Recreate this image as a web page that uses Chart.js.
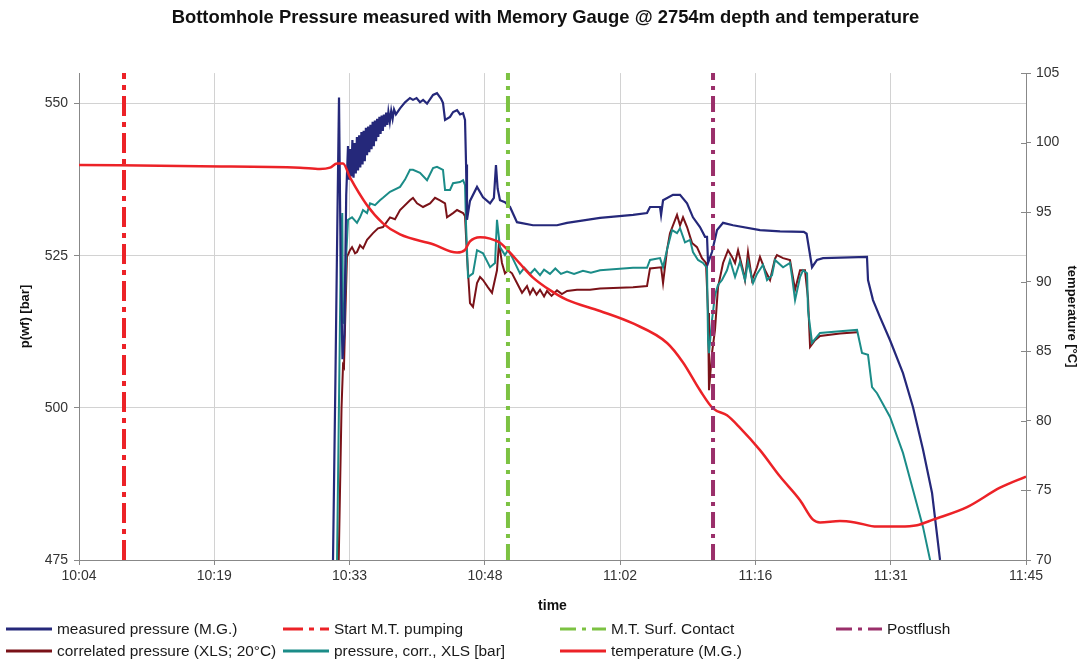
<!DOCTYPE html>
<html>
<head>
<meta charset="utf-8">
<title>Bottomhole Pressure</title>
<script src="https://cdn.jsdelivr.net/npm/chart.js@4.4.1/dist/chart.umd.min.js"></script>
<style>
  html, body { margin: 0; padding: 0; background: #fff; }
  #wrap { width: 1091px; height: 661px; }
</style>
</head>
<body>
<div id="wrap"><canvas id="chart" width="1091" height="661"></canvas></div>
<script>
'use strict'

// x values are minutes after 10:00
const timeTicks = [4, 18.43, 32.86, 47.29, 61.71, 76.14, 90.57, 105]
const timeLabels = ['10:04', '10:19', '10:33', '10:48', '11:02', '11:16', '11:31', '11:45']

const startPumping = 8.8
const surfContact = 49.75
const postflush = 71.62

const measuredPressure = [
  [30.7, 440], [31.09, 475], [31.35, 505], [31.55, 530], [31.73, 551], [31.9, 525], [32.1, 508], [32.3, 512],
  [32.5, 535], [32.69, 543], [32.8, 537.5], [32.92, 542.5], [33.04, 538], [33.16, 544], [33.28, 537.8],
  [33.4, 543.5], [33.52, 538.5], [33.64, 544.5], [33.76, 539], [33.88, 544.8], [34.0, 539.5], [34.12, 545.3],
  [34.24, 540], [34.36, 545.5], [34.48, 540.5], [34.6, 546], [34.72, 541.5], [34.84, 546.2], [34.96, 542],
  [35.08, 546.5], [35.2, 542.5], [35.32, 547], [35.44, 543], [35.56, 547.2], [35.68, 543.8], [35.8, 547.5],
  [35.92, 544.5], [36.04, 547.8], [36.16, 545], [36.28, 548], [36.4, 545.5], [36.52, 548.2], [36.64, 546.2],
  [36.76, 548.5], [36.88, 546.5], [37.0, 548.6], [37.15, 547], [37.3, 548.8], [37.45, 547.5], [37.6, 549],
  [37.8, 548.2], [38.24, 549.2], [38.77, 550.2], [39.3, 550.9], [39.62, 550.6], [40.0, 550.9], [40.37, 550.2],
  [40.7, 550.6], [41.12, 550], [41.76, 551.4], [42.18, 551.7], [42.6, 550.8], [42.82, 550.1], [43.04, 547.3],
  [43.57, 547.8], [43.9, 548.6], [44.32, 548.9], [44.64, 548.2], [44.96, 548.4], [45.17, 547.3], [45.28, 540],
  [45.38, 530.9], [45.7, 534], [46.45, 536.3], [47.09, 534.6], [47.84, 533.6], [48.25, 534.5], [48.47, 539.9],
  [48.65, 536], [48.9, 534.1], [49.43, 533.8], [49.97, 533], [50.71, 530.5], [52.42, 530], [54.98, 530],
  [56.05, 530.4], [59.57, 531.2], [63.09, 531.7], [64.58, 532], [64.9, 533], [65.97, 533], [66.08, 531.7],
  [66.29, 534.1], [67.35, 535], [68.1, 535], [68.85, 533.6], [69.48, 531.3], [70.23, 529.7], [70.77, 528.1],
  [70.98, 528.1], [71.09, 523.8], [71.51, 525.6], [72.05, 529.2], [72.69, 530.4], [73.75, 530], [76.63, 529.2],
  [78.77, 529], [81.3, 528.9], [81.6, 528.6], [82.18, 523.1], [82.71, 524.3], [83.35, 524.6], [88.04, 524.8],
  [88.15, 521], [88.68, 517.7], [89.43, 514.9], [90.5, 511.1], [91.88, 505.7], [92.95, 500.1], [94.02, 493.1],
  [94.98, 486], [95.83, 475], [96.6, 468]
]

const correlatedPressure = [
  [31.2, 440], [31.7, 475], [32.0, 500], [32.16, 507], [32.26, 506.7], [32.4, 515], [32.58, 524.8], [32.9, 525.9],
  [33.12, 526.4], [33.44, 525.4], [33.65, 525.6], [33.97, 526.7], [34.3, 526.2], [34.72, 527.6], [35.36, 528.7],
  [35.89, 529.5], [36.42, 529.7], [37.17, 531.3], [37.7, 531.0], [38.24, 532.5], [39.3, 534.1], [39.62, 534.5],
  [40.05, 533.6], [40.69, 533], [41.44, 533.6], [41.97, 534.5], [42.5, 534.1], [43.04, 533.6], [43.25, 531.3],
  [43.89, 532], [44.32, 532.5], [44.96, 532], [45.17, 531.5], [45.38, 525], [45.7, 517.2], [46.02, 516.6],
  [46.45, 520.5], [46.77, 521.5], [47.09, 521], [47.62, 519.8], [48.05, 518.9], [48.58, 522.6], [48.79, 527.1],
  [49.11, 523.8], [49.43, 522.1], [49.75, 522.6], [50.18, 522.1], [50.71, 520.5], [51.25, 518.9], [51.78, 520],
  [52.1, 518.7], [52.42, 519.6], [52.8, 518.6], [53.17, 519.4], [53.6, 518.3], [53.91, 519.2], [54.4, 518.4],
  [54.98, 519.3], [55.5, 518.7], [56.05, 519.2], [57.11, 519.4], [58.5, 519.4], [59.57, 519.6], [63.09, 519.8],
  [64.58, 520], [64.9, 522.9], [66.08, 523.1], [66.29, 520.5], [66.72, 526], [67.03, 528.7], [67.78, 531.7],
  [68.1, 530], [68.42, 531.3], [68.85, 529.7], [69.38, 527.1], [69.91, 526.4], [70.44, 524.6], [70.87, 523.8],
  [71.09, 515.6], [71.19, 502.9], [71.51, 509], [71.83, 512.8], [72.15, 519.8], [72.69, 523.8], [73.22, 525.9],
  [73.65, 524.8], [73.97, 523.8], [74.29, 525.9], [74.82, 522.6], [75.03, 521], [75.35, 525.6], [75.78, 521],
  [76.31, 523.1], [76.63, 524.8], [77.17, 522.6], [77.7, 521], [78.23, 524.5], [78.44, 525.1], [79.09, 524.6],
  [79.83, 524.3], [80.37, 519.4], [80.9, 522.6], [81.43, 522.6], [81.75, 518], [81.97, 510], [82.5, 511.1],
  [83.03, 511.8], [85.16, 512.2], [86.98, 512.4]
]

const corrPressureXls = [
  [31.0, 440], [31.52, 475], [31.8, 510], [31.94, 528], [32.08, 532], [32.16, 514], [32.3, 513.9], [32.5, 525],
  [32.69, 530.9], [33.12, 531.3], [33.65, 530.4], [33.97, 531.3], [34.29, 532.5], [34.72, 532], [35.04, 533.6],
  [35.57, 533.3], [36.1, 534.1], [36.42, 534.5], [37.17, 535.5], [38.24, 536.3], [38.77, 537.5], [39.3, 539.1],
  [39.62, 539.1], [40.37, 538.6], [41.12, 537.4], [41.76, 539.4], [42.18, 539.6], [42.82, 539.1], [43.04, 535.8],
  [43.57, 535.8], [43.89, 536.9], [44.64, 537.1], [44.96, 537.4], [45.17, 536.6], [45.28, 530], [45.49, 521.5],
  [46.02, 522.1], [46.45, 525.9], [47.09, 525.4], [47.84, 523.1], [48.37, 523.8], [48.58, 530.9], [48.9, 526.4],
  [49.43, 525.1], [49.75, 525.9], [50.18, 524.8], [51.03, 522.1], [51.5, 523], [52.1, 522], [52.6, 522.8],
  [53.17, 521.8], [53.6, 522.7], [54.23, 522], [54.8, 522.9], [55.4, 522], [56.05, 522.4], [56.8, 522],
  [57.75, 522.5], [58.6, 522.2], [59.57, 522.6], [63.09, 523], [64.58, 523], [64.9, 524.3], [65.97, 524.6],
  [66.29, 523.1], [66.72, 526], [67.25, 529.2], [67.78, 528.7], [68.1, 529.5], [68.63, 527.2], [69.17, 527.6],
  [69.48, 525.6], [70.02, 524.3], [70.55, 523.8], [70.98, 523], [71.09, 511], [71.19, 509], [71.51, 514.4],
  [71.83, 518.5], [72.15, 520.2], [72.58, 521], [73.11, 522.6], [73.43, 524.3], [73.97, 521.5], [74.5, 524],
  [75.03, 521], [75.35, 524], [75.89, 520.5], [76.31, 522], [76.95, 523.5], [77.38, 521], [77.91, 521.8],
  [78.23, 524.3], [79.09, 523.1], [79.83, 523.8], [80.05, 521.5], [80.37, 517.7], [80.9, 521.5], [81.22, 522.6],
  [81.65, 522.1], [81.75, 516], [82.18, 510.7], [83.03, 512.3], [85.16, 512.6], [86.98, 512.8], [87.51, 509],
  [88.15, 508.7], [88.58, 503.4], [89.11, 502.4], [90.5, 498.5], [91.88, 492.6], [92.95, 486.5], [94.02, 480.4],
  [94.77, 475], [95.3, 470]
]

const temperature = [
  [4, 98.4], [16.91, 98.3], [27.57, 98.2], [29.7, 98.1], [30.77, 98.2], [31.52, 98.5], [32.16, 98.5], [32.9, 97.5],
  [34.72, 95.5], [36.42, 94.2], [38.24, 93.4], [41.76, 92.7], [44.32, 92.1], [45.17, 92.3], [45.7, 92.9],
  [46.77, 93.2], [47.84, 93.1], [48.9, 92.8], [49.97, 92.1], [51.03, 91.3], [52.42, 90.3], [54.23, 89.4],
  [56.05, 88.7], [59.57, 87.9], [63.09, 87], [66.72, 85.6], [68.42, 84.2], [70.23, 82.2], [71.62, 80.9],
  [73.11, 80.4], [74.5, 79.5], [76.63, 77.9], [78.77, 76], [80.9, 74.3], [82.28, 72.9], [83.03, 72.7],
  [85.16, 72.8], [86.76, 72.7], [89.11, 72.4], [91.57, 72.4], [93.38, 72.5], [95.09, 72.9], [98.71, 73.8],
  [102.23, 75.2], [105, 76]
]

const FONT = '"Liberation Sans", Arial, sans-serif'

// legend grid: column x, row y
const legendCols = [6, 283, 560, 836]
const legendRows = [629, 651]
const legendSlots = [
  {label: 'measured pressure (M.G.)', col: 0, row: 0},
  {label: 'Start M.T. pumping', col: 1, row: 0},
  {label: 'M.T. Surf. Contact', col: 2, row: 0},
  {label: 'Postflush', col: 3, row: 0},
  {label: 'correlated pressure (XLS; 20°C)', col: 0, row: 1},
  {label: 'pressure, corr., XLS [bar]', col: 1, row: 1},
  {label: 'temperature (M.G.)', col: 2, row: 1}
]


function pts (list) {
  return list.map(p => ({x: p[0], y: p[1]}))
}


function marker (x) {
  return [{x: x, y: 475}, {x: x, y: 555}]
}


const bottomLegend = {
  id: 'bottomLegend',
  afterDraw (chart) {
    const ctx = chart.ctx
    ctx.save()

    // temperature axis ticks cross the axis line
    const y1 = chart.scales.y1
    ctx.strokeStyle = '#888'
    ctx.lineWidth = 1
    y1.ticks.forEach(t => {
      const py = Math.round(y1.getPixelForValue(t.value)) + 0.5
      ctx.beginPath()
      ctx.moveTo(y1.left - 5, py)
      ctx.lineTo(y1.left, py)
      ctx.stroke()
    })

    ctx.font = '15.4px ' + FONT
    ctx.textBaseline = 'middle'
    legendSlots.forEach(slot => {
      const ds = chart.data.datasets.find(d => d.label === slot.label)
      const x = legendCols[slot.col]
      const y = legendRows[slot.row]
      ctx.strokeStyle = ds.borderColor
      ctx.lineWidth = 3
      ctx.setLineDash(ds.borderDash || [])
      ctx.beginPath()
      ctx.moveTo(x, y)
      ctx.lineTo(x + 46, y)
      ctx.stroke()
      ctx.setLineDash([])
      ctx.fillStyle = '#1a1a1a'
      ctx.fillText(ds.label, x + 51, y + 1)
    })
    ctx.restore()
  }
}


const lineBase = {pointRadius: 0, borderWidth: 2, tension: 0, fill: false}

const chart = new Chart(document.getElementById('chart'), {
  type: 'line',
  data: {
    datasets: [
      Object.assign({}, lineBase, {
        label: 'measured pressure (M.G.)', data: pts(measuredPressure),
        borderColor: '#25287a', borderWidth: 2.2, yAxisID: 'y', order: 3
      }),
      Object.assign({}, lineBase, {
        label: 'Start M.T. pumping', data: marker(startPumping),
        borderColor: '#ec2227', borderWidth: 4, borderDash: [20, 6, 5, 6], yAxisID: 'y', order: 0
      }),
      Object.assign({}, lineBase, {
        label: 'M.T. Surf. Contact', data: marker(surfContact),
        borderColor: '#7cc242', borderWidth: 4, borderDash: [16, 6, 4, 6], yAxisID: 'y', order: 0
      }),
      Object.assign({}, lineBase, {
        label: 'Postflush', data: marker(postflush),
        borderColor: '#9a2f6a', borderWidth: 4, borderDash: [16, 6, 4, 6], yAxisID: 'y', order: 0
      }),
      Object.assign({}, lineBase, {
        label: 'correlated pressure (XLS; 20°C)', data: pts(correlatedPressure),
        borderColor: '#7a1218', yAxisID: 'y', order: 5
      }),
      Object.assign({}, lineBase, {
        label: 'pressure, corr., XLS [bar]', data: pts(corrPressureXls),
        borderColor: '#1b8c88', yAxisID: 'y', order: 4
      }),
      Object.assign({}, lineBase, {
        label: 'temperature (M.G.)', data: pts(temperature),
        borderColor: '#ec2227', borderWidth: 2.5, cubicInterpolationMode: 'monotone',
        yAxisID: 'y1', order: 1
      })
    ]
  },
  options: {
    responsive: false,
    animation: false,
    layout: {padding: {top: 0, left: 0, right: 0, bottom: 46}},
    plugins: {
      legend: {display: false},
      tooltip: {enabled: false},
      title: {
        display: true,
        text: 'Bottomhole Pressure measured with Memory Gauge @ 2754m depth and temperature',
        color: '#111',
        font: {family: FONT, size: 18.4, weight: 'bold', lineHeight: 1.2},
        padding: {top: 7, bottom: 44}
      }
    },
    scales: {
      x: {
        type: 'linear',
        min: 4,
        max: 105,
        afterBuildTicks: scale => { scale.ticks = timeTicks.map(v => ({value: v})) },
        afterFit: scale => { scale.height = 55 },
        ticks: {
          autoSkip: false,
          maxRotation: 0,
          color: '#333',
          padding: 3,
          font: {family: FONT, size: 14},
          callback: (value, index) => timeLabels[index]
        },
        grid: {color: '#d2d2d2', tickColor: '#888', tickLength: 5},
        border: {color: '#888'},
        title: {
          display: true, text: 'time', color: '#111',
          font: {family: FONT, size: 14, weight: 'bold', lineHeight: 1.2},
          padding: {top: 0, bottom: 0}
        }
      },
      y: {
        position: 'left',
        min: 475,
        max: 555,
        afterFit: scale => { scale.width = 79 },
        ticks: {
          stepSize: 25, includeBounds: false, color: '#333', padding: 6,
          font: {family: FONT, size: 14}
        },
        grid: {color: '#d2d2d2', tickColor: '#888', tickLength: 5},
        border: {color: '#888'},
        title: {
          display: true, text: 'p(wf) [bar]', color: '#111',
          font: {family: FONT, size: 13, weight: 'bold', lineHeight: 1.2},
          padding: {top: 18, bottom: 0}
        }
      },
      y1: {
        position: 'right',
        min: 70,
        max: 105,
        afterFit: scale => { scale.width = 65 },
        ticks: {
          stepSize: 5, color: '#333', padding: 5,
          font: {family: FONT, size: 14}
        },
        grid: {drawOnChartArea: false, tickColor: '#888', tickLength: 5},
        border: {color: '#888'},
        title: {
          display: true, text: 'temperature [°C]', color: '#111',
          font: {family: FONT, size: 13, weight: 'bold', lineHeight: 1.2},
          padding: {top: 12, bottom: 0}
        }
      }
    }
  },
  plugins: [bottomLegend]
})
</script>
</body>
</html>
